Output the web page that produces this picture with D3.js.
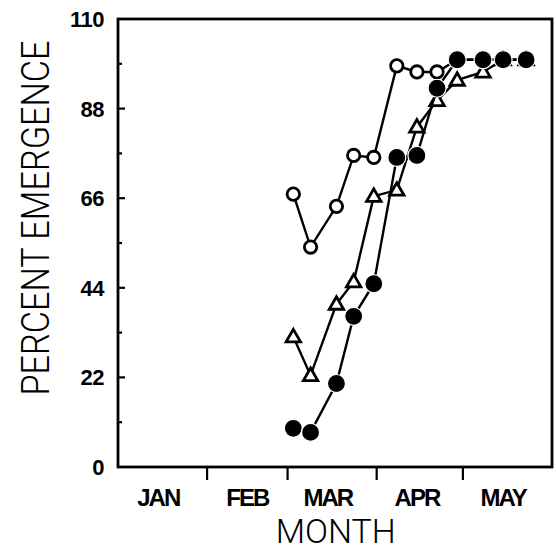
<!DOCTYPE html>
<html>
<head>
<meta charset="utf-8">
<script src="https://cdnjs.cloudflare.com/ajax/libs/d3/7.8.5/d3.min.js"></script>
<style>
body { margin: 0; background: #fff; }
svg { display: block; }
.tick-num { font-family: "Liberation Sans", Arial, sans-serif; font-weight: bold; font-size: 22px; letter-spacing: -0.5px; }
.month { font-family: "Liberation Sans", Arial, sans-serif; font-weight: bold; font-size: 24px; letter-spacing: -2px; }
.title { font-family: Roboto, "DejaVu Sans", sans-serif; font-weight: 300; }
</style>
</head>
<body>
<div id="chart"></div>
<script>
// sampling dates (1987, non leap) and percent emergence for the three series
var dates = ["1987-03-03", "1987-03-09", "1987-03-18", "1987-03-24", "1987-03-31", "1987-04-08",
             "1987-04-15", "1987-04-22", "1987-04-29", "1987-05-08", "1987-05-15", "1987-05-23"];
var openCircle = [67, 54, 64, 76.5, 76, 98.5, 97, 97, 100, 100, 100, 100];
var triangle   = [32, 22.5, 40, 45.5, 66.5, 68, 83.5, 90, 95, 97, 100, 100];
var filled     = [9.5, 8.5, 20.5, 37, 45, 76, 76.5, 93, 100, 100, 100, 100];

var monthTicks = ["1987-02-01", "1987-03-01", "1987-04-01", "1987-05-01"];
var monthLabels = ["JAN", "FEB", "MAR", "APR", "MAY"];
var monthMids = ["1987-01-15", "1987-02-15", "1987-03-15", "1987-04-15", "1987-05-15"];
var yMajor = [0, 22, 44, 66, 88, 110];
var yMinor = [11, 33, 55, 77, 99];

var parse = d3.timeParse("%Y-%m-%d");
var W = 556, H = 553;
var margin = {top: 19, right: 4, bottom: 86, left: 118};
var width = W - margin.left - margin.right,
    height = H - margin.top - margin.bottom;

var x = d3.scaleTime().domain([parse("1987-01-01"), parse("1987-06-01")]).range([0, width]);
var y = d3.scaleLinear().domain([0, 110]).range([height, 0]);

var svg = d3.select("#chart").append("svg")
    .attr("width", W)
    .attr("height", H)
    .append("g")
    .attr("transform", "translate(" + margin.left + "," + margin.top + ")");

// frame
svg.append("rect")
    .attr("width", width)
    .attr("height", height)
    .attr("fill", "none")
    .attr("stroke", "#000")
    .attr("stroke-width", 2.8);

// y ticks (inward)
svg.selectAll(".ymaj").data(yMajor.slice(1, -1)).enter().append("line")
    .attr("x1", 0).attr("x2", 7)
    .attr("y1", function(d) { return y(d); }).attr("y2", function(d) { return y(d); })
    .attr("stroke", "#000").attr("stroke-width", 2.2);
svg.selectAll(".ymin").data(yMinor).enter().append("line")
    .attr("x1", 0).attr("x2", 4)
    .attr("y1", function(d) { return y(d); }).attr("y2", function(d) { return y(d); })
    .attr("stroke", "#000").attr("stroke-width", 2.2);
svg.selectAll(".ylab").data(yMajor).enter().append("text")
    .attr("class", "tick-num")
    .attr("x", -14)
    .attr("y", function(d) { return y(d); })
    .attr("dy", "0.36em")
    .attr("text-anchor", "end")
    .text(function(d) { return d; });

// month ticks (outward) and labels
svg.selectAll(".xt").data(monthTicks).enter().append("line")
    .attr("x1", function(d) { return x(parse(d)); }).attr("x2", function(d) { return x(parse(d)); })
    .attr("y1", height).attr("y2", height + 13)
    .attr("stroke", "#000").attr("stroke-width", 2.2);
svg.selectAll(".xl").data(monthLabels).enter().append("text")
    .attr("class", "month")
    .attr("x", function(d, i) { return x(parse(monthMids[i])); })
    .attr("y", height + 39)
    .attr("text-anchor", "middle")
    .text(function(d) { return d; });

svg.append("text")
    .attr("class", "title")
    .attr("x", x(parse("1987-03-15")) + 8)
    .attr("y", height + 76)
    .attr("text-anchor", "middle")
    .attr("font-size", "33px")
    .attr("textLength", 120)
    .attr("lengthAdjust", "spacingAndGlyphs")
    .text("MONTH");

svg.append("text")
    .attr("class", "title")
    .attr("transform", "rotate(-90)")
    .attr("x", -(218 - margin.top))
    .attr("y", 49 - margin.left)
    .attr("text-anchor", "middle")
    .attr("font-size", "38px")
    .attr("textLength", 355)
    .attr("lengthAdjust", "spacingAndGlyphs")
    .text("PERCENT EMERGENCE");

function pts(vals) {
  return vals.map(function(v, i) { return [x(parse(dates[i])), y(v)]; });
}
var line = d3.line();

function drawSeries(vals, shape) {
  var p = pts(vals);
  svg.append("path")
      .attr("d", line(p))
      .attr("fill", "none")
      .attr("stroke", "#000")
      .attr("stroke-width", 2.4);
  var g = svg.append("g");
  p.forEach(function(d) {
    if (shape === "open") {
      g.append("circle").attr("cx", d[0]).attr("cy", d[1]).attr("r", 6.2)
        .attr("fill", "#fff").attr("stroke", "#000").attr("stroke-width", 2.8);
    } else if (shape === "tri") {
      g.append("path")
        .attr("d", d3.symbol().type(d3.symbolTriangle).size(90)())
        .attr("transform", "translate(" + d[0] + "," + (d[1] + 1) + ")")
        .attr("fill", "#fff").attr("stroke", "#000").attr("stroke-width", 2.8)
        .attr("stroke-linejoin", "miter");
    } else {
      g.append("circle").attr("cx", d[0]).attr("cy", d[1]).attr("r", 9)
        .attr("fill", "#000").attr("stroke", "#fff").attr("stroke-width", 1.2);
    }
  });
}

drawSeries(openCircle, "open");
drawSeries(triangle, "tri");
drawSeries(filled, "filled");
</script>
</body>
</html>
